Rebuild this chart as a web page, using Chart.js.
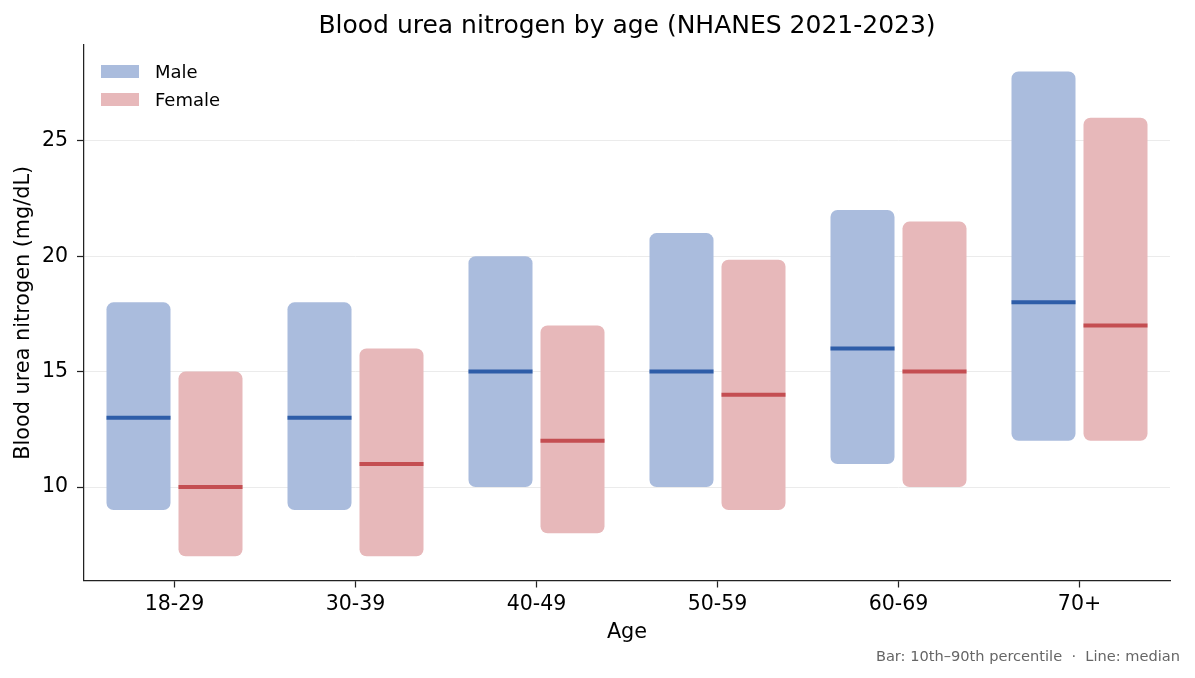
<!DOCTYPE html>
<html>
<head>
<meta charset="utf-8">
<script src="https://cdn.jsdelivr.net/npm/chart.js@4"></script>
<style>
  body { margin: 0; background: #fff; }
</style>
</head>
<body>
<canvas id="bunChart" width="1195" height="678"></canvas>
<script>
// age groups and percentile ranges
const ageGroups = ['18-29', '30-39', '40-49', '50-59', '60-69', '70+'];
const maleP10 = [9, 9, 10, 10, 11, 12];
const maleP90 = [18, 18, 20, 21, 22, 28];
const maleMedian = [13, 13, 15, 15, 16, 18];
const femaleP10 = [7, 7, 8, 9, 10, 12];
const femaleP90 = [15, 16, 17, 19.85, 21.5, 26];
const femaleMedian = [10, 11, 12, 14, 15, 17];
const yTicks = [10, 15, 20, 25];

const FONT = "'DejaVu Sans', sans-serif";
const INK = '#222222';

const medians = [maleMedian, femaleMedian];
const medianColors = ['#2e5da8', '#c44e52'];

// median line across each bar
const medianLines = {
  id: 'medianLines',
  afterDatasetsDraw(chart) {
    const ctx = chart.ctx;
    const y = chart.scales.y;
    ctx.save();
    medians.forEach((vals, d) => {
      chart.getDatasetMeta(d).data.forEach((bar, i) => {
        const py = y.getPixelForValue(vals[i]);
        ctx.strokeStyle = medianColors[d];
        ctx.lineWidth = 4;
        ctx.beginPath();
        ctx.moveTo(bar.x - bar.width / 2, py);
        ctx.lineTo(bar.x + bar.width / 2, py);
        ctx.stroke();
      });
    });
    ctx.restore();
  }
};

// title, legend inside the plot, footnote
const decorations = {
  id: 'decorations',
  afterDraw(chart) {
    const ctx = chart.ctx;
    const area = chart.chartArea;
    ctx.save();
    ctx.fillStyle = '#000';
    ctx.font = '25px ' + FONT;
    ctx.textAlign = 'center';
    ctx.textBaseline = 'alphabetic';
    ctx.fillText('Blood urea nitrogen by age (NHANES 2021-2023)', (area.left + area.right) / 2, 33);

    ctx.textAlign = 'left';
    ctx.font = '18px ' + FONT;
    chart.data.datasets.forEach((ds, i) => {
      const top = 65 + i * 28;
      ctx.fillStyle = ds.backgroundColor;
      ctx.fillRect(101, top, 38, 13);
      ctx.fillStyle = '#000';
      ctx.fillText(ds.label, 155, top + 12.5);
    });

    ctx.textAlign = 'right';
    ctx.font = '14.6px ' + FONT;
    ctx.fillStyle = '#666666';
    ctx.fillText('Bar: 10th\u201390th percentile  \u00b7  Line: median', 1180, 661);
    ctx.restore();
  }
};

const ctx = document.getElementById('bunChart').getContext('2d');
new Chart(ctx, {
  type: 'bar',
  data: {
    labels: ageGroups,
    datasets: [
      {
        label: 'Male',
        data: maleP10.map((lo, i) => [lo, maleP90[i]]),
        backgroundColor: '#aabcdd',
        borderRadius: 7,
        borderSkipped: false,
        categoryPercentage: 0.7956,
        barPercentage: 0.889
      },
      {
        label: 'Female',
        data: femaleP10.map((lo, i) => [lo, femaleP90[i]]),
        backgroundColor: '#e7b8ba',
        borderRadius: 7,
        borderSkipped: false,
        categoryPercentage: 0.7956,
        barPercentage: 0.889
      }
    ]
  },
  options: {
    responsive: false,
    animation: false,
    layout: { padding: { top: 45, right: 25, left: 0, bottom: 0 } },
    plugins: {
      legend: { display: false },
      title: { display: false },
      tooltip: { enabled: false }
    },
    scales: {
      x: {
        afterFit: scale => { scale.height = 97.5; },
        grid: { drawOnChartArea: false, offset: false, tickLength: 7, tickColor: INK, tickWidth: 1.25 },
        border: { color: INK, width: 1.25 },
        ticks: { color: '#000', font: { family: FONT, size: 20.5 }, padding: 5 },
        title: { display: true, text: 'Age', color: '#000', font: { family: FONT, size: 20.8 }, padding: { bottom: 33 } }
      },
      y: {
        min: 5.95,
        max: 29.15,
        afterFit: scale => { scale.width = 84; },
        afterBuildTicks: scale => { scale.ticks = yTicks.map(v => ({ value: v })); },
        grid: { color: '#ebebeb', lineWidth: 1, tickLength: 7, tickColor: INK, tickWidth: 1.25 },
        border: { color: INK, width: 1.25 },
        ticks: { color: '#000', font: { family: FONT, size: 20.5 }, padding: 9 },
        title: { display: true, text: 'Blood urea nitrogen (mg/dL)', color: '#000', font: { family: FONT, size: 20.8 }, padding: { top: 11 } }
      }
    }
  },
  plugins: [medianLines, decorations]
});
</script>
</body>
</html>
